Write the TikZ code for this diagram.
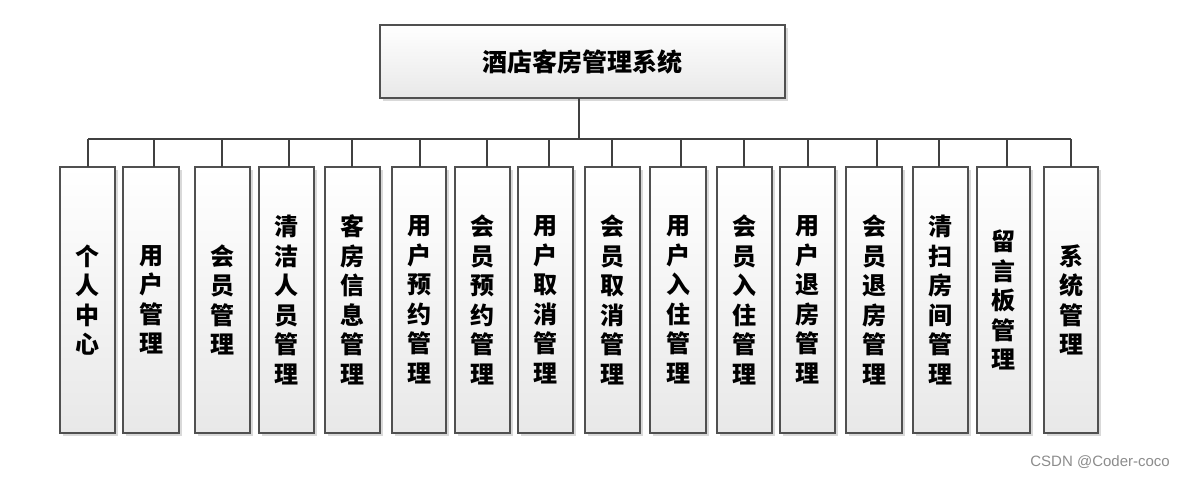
\documentclass[tikz,border=0pt]{standalone}
\usepackage{fontspec}
\newfontfamily\cjk{Noto Sans CJK SC}
\setsansfont{Liberation Sans}
\usetikzlibrary{shadows}
\definecolor{bordergray}{HTML}{505050}
\definecolor{linegray}{HTML}{404040}
\definecolor{fillbot}{HTML}{E8E8E8}
\tikzset{
  boxstyle/.style={draw=bordergray, line width=1.2pt, top color=white, bottom color=fillbot,
    drop shadow={shadow xshift=3pt, shadow yshift=-3pt, fill=black!25, opacity=0.6},
    inner sep=0pt, font=\cjk\bfseries\fontsize{24}{29.5}\selectfont, align=center},
  conn/.style={draw=linegray, line width=2.2pt},
}
\newcommand{\mybox}[5]{%
  \node[boxstyle, minimum width={#2-#1}, minimum height=266pt] (#4) at ({(#1+#2)/2},300) {#5};
  \coordinate (#4t) at (#3,167);
  \coordinate (#4b) at (#3,139);
}
\begin{document}
\begin{tikzpicture}[x=1pt,y=-1pt]
\useasboundingbox (0,0) rectangle (1185,477);
\node[boxstyle, font=\cjk\bfseries\fontsize{25}{30}\selectfont, minimum width=405pt, minimum height=73pt] (root) at (582.5,61.5) {酒店客房管理系统};
\coordinate (stem) at (579,139);
\draw[conn] (579,98) -- (stem);
\draw[conn] (88,139) -- (1071,139);
\mybox{60}{115}{88}{b1}{个\\人\\中\\心}
\mybox{123}{179}{154}{b2}{用\\户\\管\\理}
\mybox{195}{250}{222}{b3}{会\\员\\管\\理}
\mybox{259}{314}{289}{b4}{清\\洁\\人\\员\\管\\理}
\mybox{325}{380}{352}{b5}{客\\房\\信\\息\\管\\理}
\mybox{392}{446}{420}{b6}{用\\户\\预\\约\\管\\理}
\mybox{455}{510}{487}{b7}{会\\员\\预\\约\\管\\理}
\mybox{518}{573}{549}{b8}{用\\户\\取\\消\\管\\理}
\mybox{585}{640}{612}{b9}{会\\员\\取\\消\\管\\理}
\mybox{650}{706}{681}{b10}{用\\户\\入\\住\\管\\理}
\mybox{717}{772}{744}{b11}{会\\员\\入\\住\\管\\理}
\mybox{780}{835}{808}{b12}{用\\户\\退\\房\\管\\理}
\mybox{846}{902}{877}{b13}{会\\员\\退\\房\\管\\理}
\mybox{913}{968}{939}{b14}{清\\扫\\房\\间\\管\\理}
\mybox{977}{1030}{1007}{b15}{留\\言\\板\\管\\理}
\mybox{1044}{1098}{1071}{b16}{系\\统\\管\\理}
\foreach \i in {1,...,16} { \draw[conn] (b\i b) -- (b\i t); }
\node[font=\sffamily\fontsize{15}{17}\selectfont, text=black!45, anchor=east, inner sep=0pt] (wm) at (1170,462) {CSDN @Coder-coco};
\end{tikzpicture}
\end{document}
